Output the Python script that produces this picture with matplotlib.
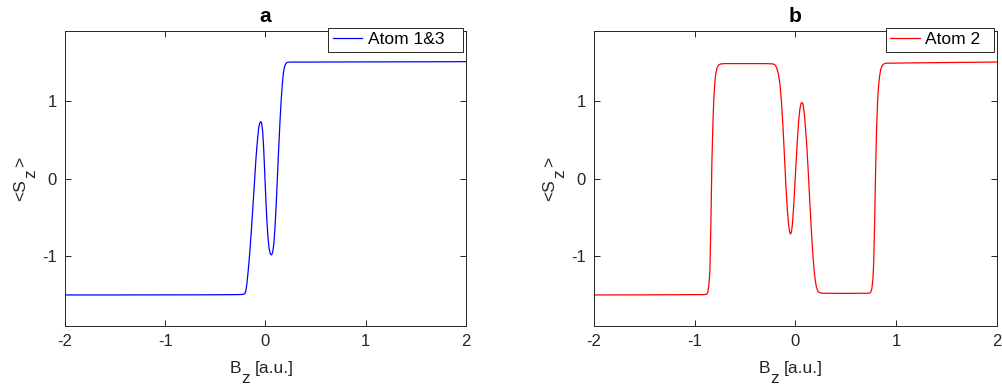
import matplotlib
matplotlib.use("Agg")
import matplotlib.pyplot as plt

plt.rcParams["font.family"] = ["Liberation Sans", "DejaVu Sans"]

# <Sz> vs Bz for the outer atoms (1 & 3)
bz_a = [-2.0, -1.5, -1.0, -0.5, -0.25, -0.215, -0.205, -0.195, -0.185, -0.175,
        -0.165, -0.155, -0.14, -0.125, -0.11, -0.095, -0.08, -0.068, -0.058,
        -0.048, -0.038, -0.028, -0.018, -0.008, 0.002, 0.012, 0.024, 0.036,
        0.048, 0.06, 0.072, 0.084, 0.096, 0.108, 0.12, 0.132, 0.144, 0.156,
        0.168, 0.18, 0.192, 0.205, 0.22, 0.25, 0.5, 1.0, 1.5, 2.0]
sz_a = [-1.5, -1.5, -1.499, -1.498, -1.495, -1.49, -1.48, -1.44, -1.35, -1.22,
        -1.08, -0.92, -0.65, -0.35, -0.05, 0.26, 0.5, 0.65, 0.712,
        0.733, 0.71, 0.6, 0.38, 0.08, -0.22, -0.5, -0.75, -0.9,
        -0.97, -0.985, -0.95, -0.83, -0.6, -0.3, 0.05, 0.4, 0.72, 1.0,
        1.22, 1.37, 1.45, 1.485, 1.497, 1.5, 1.5, 1.502, 1.503, 1.505]

# <Sz> vs Bz for the middle atom (2)
bz_b = [-2.0, -1.5, -1.2, -0.9, -0.88, -0.87, -0.86, -0.85, -0.84, -0.83,
        -0.82, -0.81, -0.8, -0.79, -0.78, -0.765, -0.745, -0.7, -0.5, -0.3,
        -0.25, -0.22, -0.2, -0.185, -0.17, -0.155, -0.14, -0.125, -0.11, -0.095,
        -0.08, -0.068, -0.058, -0.05, -0.04, -0.03, -0.018, -0.005, 0.008, 0.02,
        0.032, 0.044, 0.056, 0.066, 0.076, 0.088, 0.1, 0.112, 0.124, 0.136,
        0.148, 0.16, 0.172, 0.184, 0.196, 0.208, 0.22, 0.235, 0.26, 0.5,
        0.73, 0.745, 0.758, 0.768, 0.776, 0.785, 0.795, 0.805, 0.815, 0.825,
        0.835, 0.845, 0.858, 0.875, 0.9, 1.2, 1.6, 2.0]
sz_b = [-1.5, -1.499, -1.497, -1.495, -1.49, -1.46, -1.38, -1.2, -0.6, 0.2,
        0.7, 1.05, 1.25, 1.36, 1.42, 1.46, 1.475, 1.48, 1.48, 1.48,
        1.478, 1.475, 1.46, 1.42, 1.35, 1.22, 1.0, 0.68, 0.3, -0.1,
        -0.42, -0.6, -0.69, -0.715, -0.69, -0.58, -0.35, -0.05, 0.25, 0.52,
        0.75, 0.9, 0.97, 0.98, 0.95, 0.83, 0.64, 0.42, 0.15, -0.15,
        -0.45, -0.73, -0.98, -1.17, -1.31, -1.4, -1.445, -1.468, -1.478, -1.48,
        -1.478, -1.47, -1.42, -1.3, -1.1, -0.6, 0.1, 0.65, 1.0, 1.2,
        1.32, 1.4, 1.45, 1.475, 1.485, 1.49, 1.495, 1.5]

xticks = [-2, -1, 0, 1, 2]
yticks = [-1, 0, 1]

W, H = 1003, 387
DARK = "#262626"

# (title, x, y, colour, legend label, legend right padding, axes left px, axes width px)
panels = [
    ("a", bz_a, sz_a, "blue", "Atom 1&3", 3, 65, 401),
    ("b", bz_b, sz_b, "red", "Atom 2", 2, 594, 403),
]
AX_TOP, AX_BOT = 31, 326


def px_text(x, y, s, **kw):
    # place text at a pixel position (origin top-left)
    return fig.text(x / W, 1 - y / H, s, fontsize=12.5, color=DARK, **kw)


fig = plt.figure(figsize=(W / 100, H / 100), dpi=100)

for title, x, y, color, label, lpad, left, width in panels:
    ax = fig.add_axes([left / W, 1 - AX_BOT / H, width / W, (AX_BOT - AX_TOP) / H])
    line, = ax.plot(x, y, color=color, linewidth=0.9)
    ax.set_xlim(-2, 2)
    ax.set_ylim(-1.9, 1.9)
    ax.set_xticks(xticks)
    ax.set_yticks(yticks)
    ax.set_xticklabels([str(t) for t in xticks])
    ax.set_yticklabels([str(t) for t in yticks])
    ax.tick_params(direction="in", length=4, width=0.7, top=True, right=True,
                   labelsize=12, colors=DARK, pad=6)
    for sp in ax.spines.values():
        sp.set_color(DARK)
        sp.set_linewidth(0.7)
    ax.set_title(title, fontsize=15, fontweight="bold", pad=6.5)

    # x label: B with a dropped, full-size subscript z
    px_text(left + 165, 373, "B", ha="left", va="baseline")
    px_text(left + 176.5, 383, "z", ha="left", va="baseline")
    px_text(left + 190, 373, "[a.u.]", ha="left", va="baseline")

    # y label: <S_z >, written bottom to top
    yl = left - 65
    rot = dict(rotation=90, rotation_mode="anchor", ha="left", va="baseline")
    px_text(yl + 25, 201.5, "<S", **rot)
    px_text(yl + 35, 178, "z", **rot)
    px_text(yl + 25, 167.5, ">", **rot)

    leg = ax.legend([line], [label + " " * lpad], loc="upper right",
                    bbox_to_anchor=(1 - 3 / width, 1 + 3 / (AX_BOT - AX_TOP)),
                    borderaxespad=0, fontsize=12.5, fancybox=False,
                    framealpha=1, edgecolor=DARK, handlelength=1.7,
                    handletextpad=0.3, borderpad=0.25)
    leg.get_frame().set_linewidth(0.7)

fig.savefig("out.png", dpi=100)
